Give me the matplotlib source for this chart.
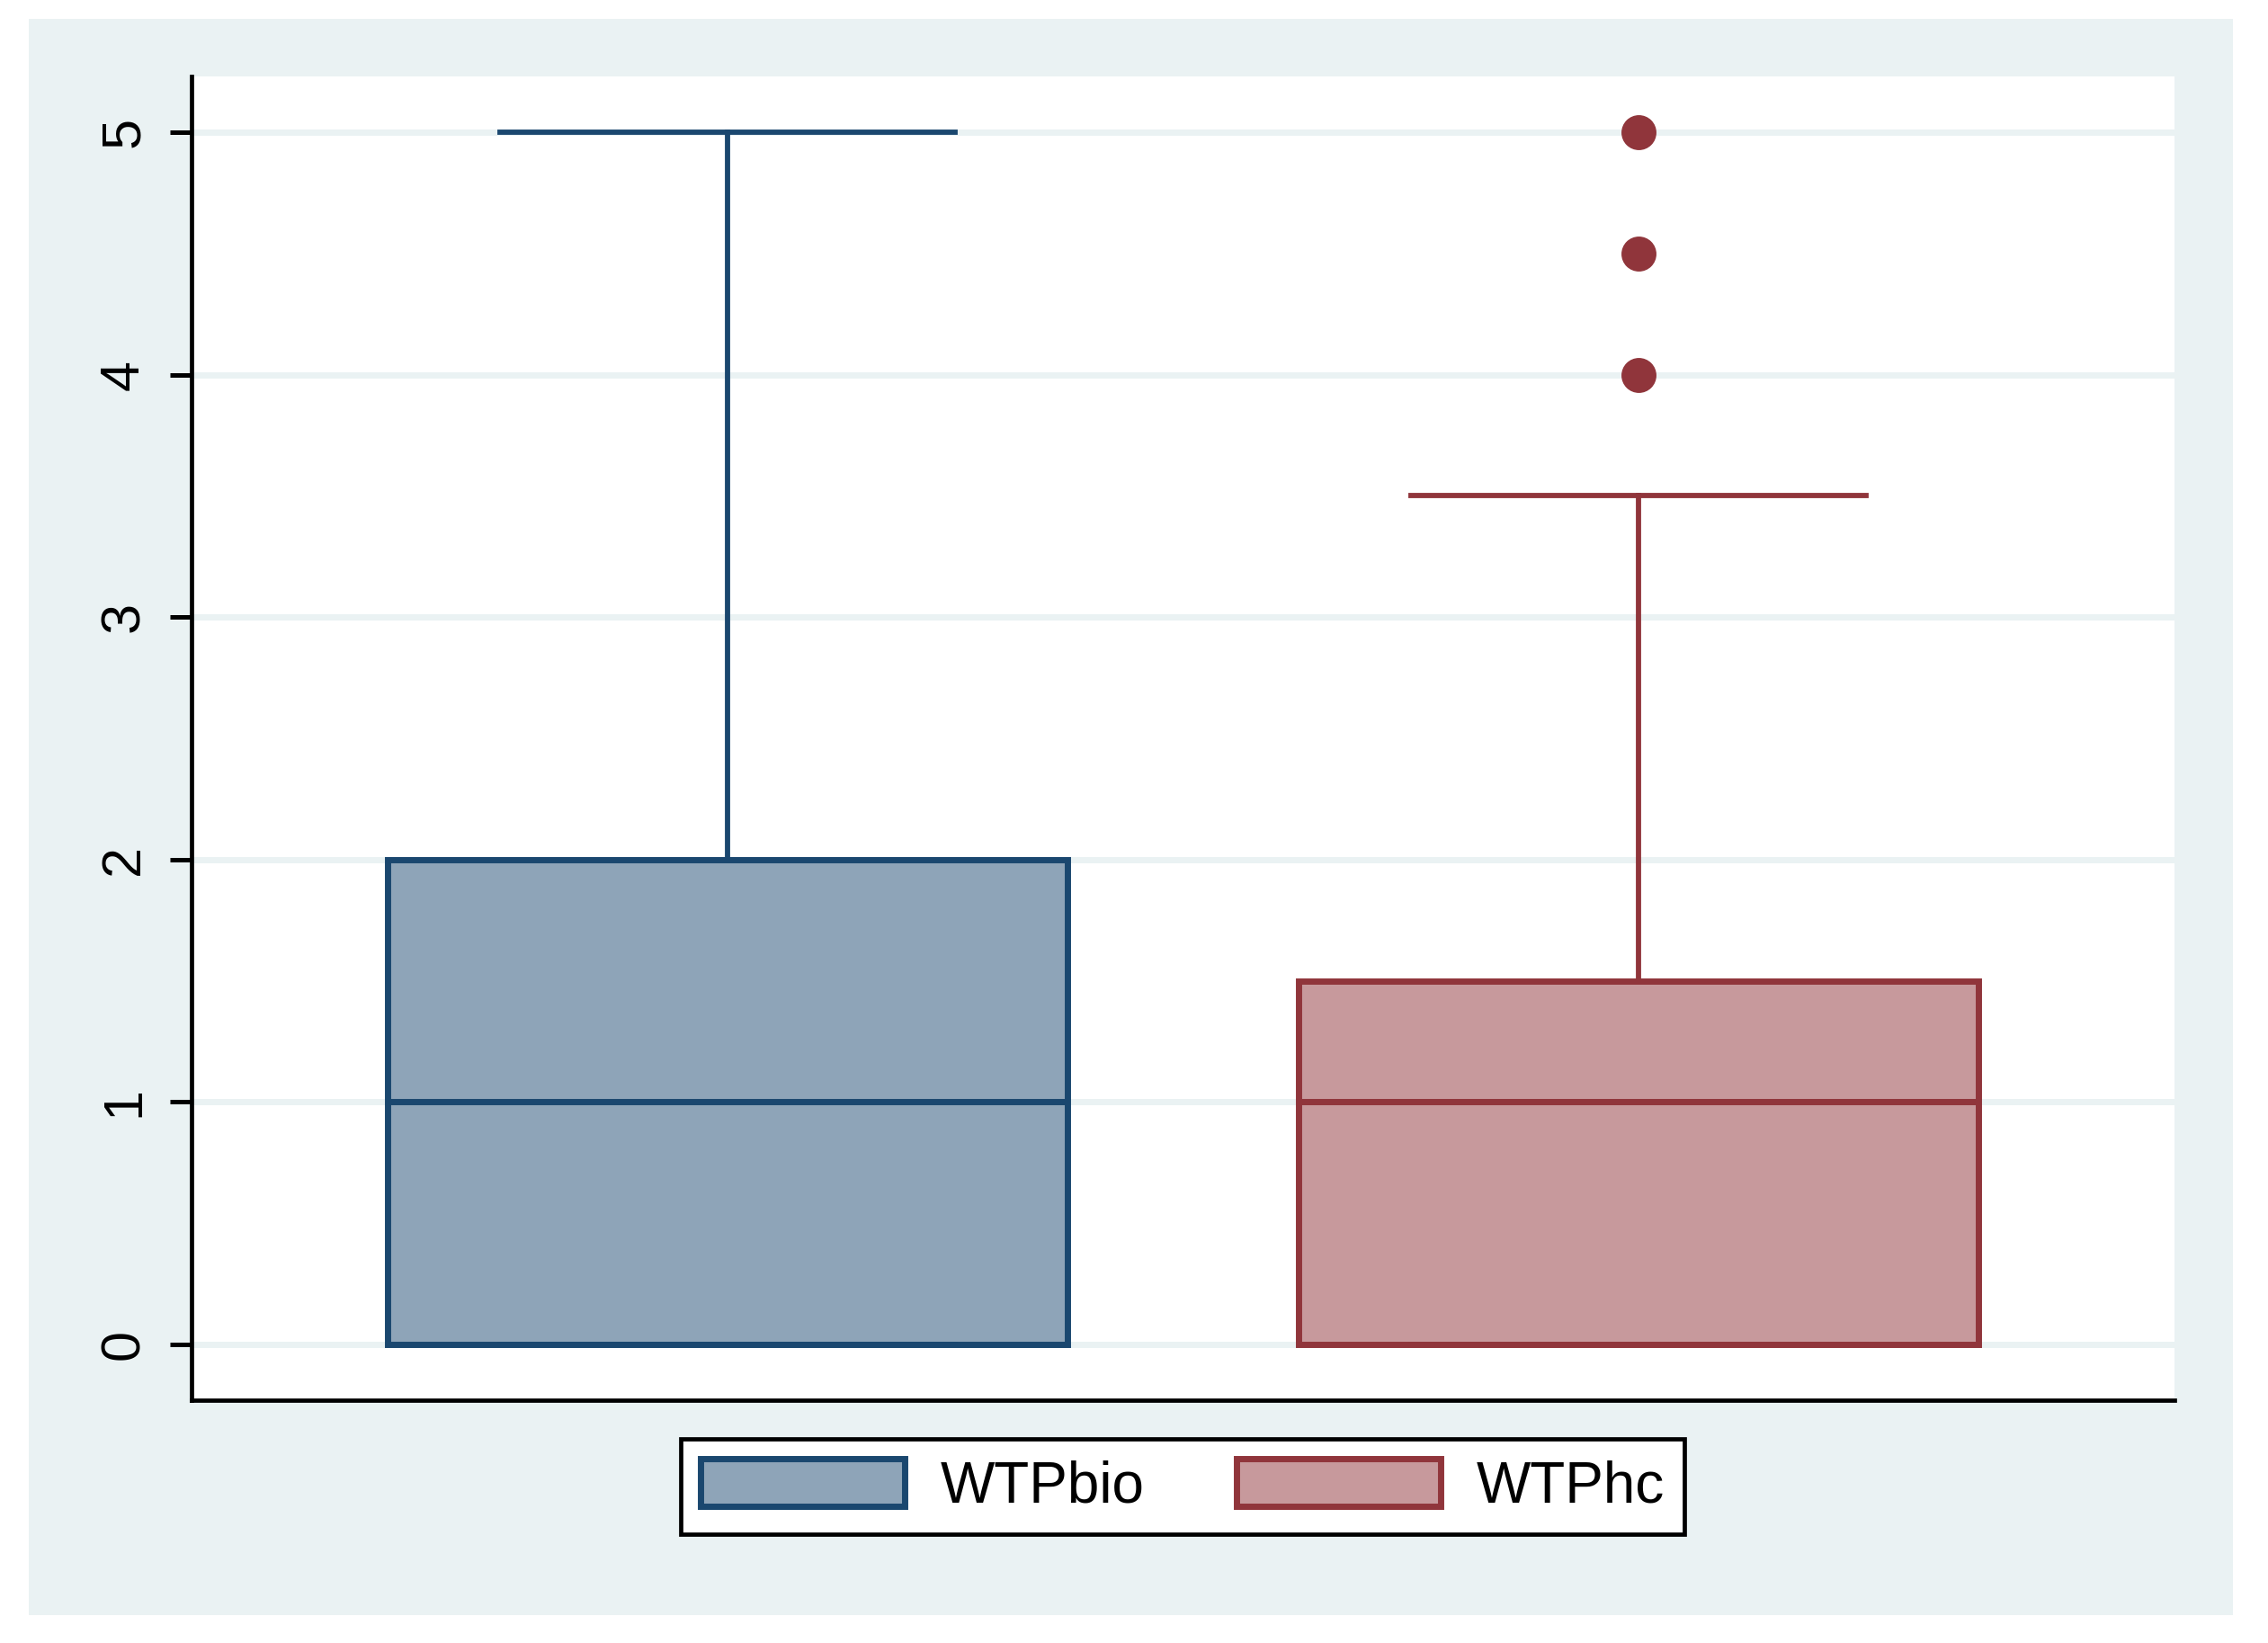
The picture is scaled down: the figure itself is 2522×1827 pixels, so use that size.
import matplotlib
matplotlib.use("Agg")
import matplotlib.pyplot as plt
import matplotlib.patches as mpatches

plt.rcParams["font.family"] = ["Liberation Sans", "DejaVu Sans"]

# ── data ────────────────────────────────────────────
labels    = ["WTPbio", "WTPhc"]
q1        = [0.0, 0.0]
medians   = [1.0, 1.0]
q3        = [2.0, 1.5]
whis_lo   = [0.0, 0.0]
whis_hi   = [5.0, 3.5]
outliers  = [[], [4.0, 4.5, 5.0]]
yticks    = [0, 1, 2, 3, 4, 5]

edge_cols = ["#1A476F", "#90353B"]
fill_cols = ["#8EA4B8", "#C7999C"]
bg_col    = "#EAF2F3"

DPI = 200
fig = plt.figure(figsize=(2522 / DPI, 1827 / DPI), dpi=DPI, facecolor="white")

# light outer panel (Stata s2color style)
fig.patches.append(mpatches.Rectangle((0.01269, 0.01697), 0.9718, 0.9715,
                                      transform=fig.transFigure, facecolor=bg_col,
                                      edgecolor="none", zorder=0))

ax = fig.add_axes([0.08446, 0.1478, 0.8743, 0.8057])
ax.set_zorder(2)
ax.set_facecolor("white")

stats = []
for i in range(len(labels)):
    stats.append(dict(med=medians[i], q1=q1[i], q3=q3[i],
                      whislo=whis_lo[i], whishi=whis_hi[i],
                      fliers=outliers[i], label=labels[i]))

positions = [1, 2]
for i, st in enumerate(stats):
    ec = edge_cols[i]
    ax.bxp([st], positions=[positions[i]], widths=0.746, capwidths=0.50,
           patch_artist=True, showfliers=True,
           boxprops=dict(facecolor=fill_cols[i], edgecolor=ec, linewidth=2.5),
           medianprops=dict(color=ec, linewidth=2.5),
           whiskerprops=dict(color=ec, linewidth=2.1),
           capprops=dict(color=ec, linewidth=2.1),
           flierprops=dict(marker="o", markersize=13, markerfacecolor=ec,
                           markeredgecolor=ec, linestyle="none"),
           zorder=3)

ax.set_xlim(0.412, 2.588)
ax.set_ylim(-0.23, 5.23)
ax.set_xticks([])
ax.set_yticks(yticks)
ax.set_yticklabels([str(t) for t in yticks], rotation=90, va="center", fontsize=22)
ax.tick_params(axis="y", length=8.6, width=1.8, pad=8, color="black")

ax.grid(True, axis="y", color=bg_col, linewidth=2.5)
ax.set_axisbelow(True)

for s in ["top", "right"]:
    ax.spines[s].set_visible(False)
for s in ["left", "bottom"]:
    ax.spines[s].set_linewidth(1.7)
    ax.spines[s].set_color("black")

handles = [mpatches.Patch(facecolor=fill_cols[i], edgecolor=edge_cols[i],
                          linewidth=2.5, label=labels[i]) for i in range(2)]
leg = fig.legend(handles=handles, loc="center", ncol=2,
                 bbox_to_anchor=(1315 / 2522, 1 - 1653 / 1827),
                 fontsize=23, frameon=True, fancybox=False, framealpha=1,
                 edgecolor="black", handlelength=3.55, handleheight=0.88,
                 handletextpad=0.62, columnspacing=1.6, borderpad=0.35)
leg.get_frame().set_linewidth(1.7)
leg.set_zorder(3)

fig.savefig("out.png", dpi=DPI, facecolor="white")
